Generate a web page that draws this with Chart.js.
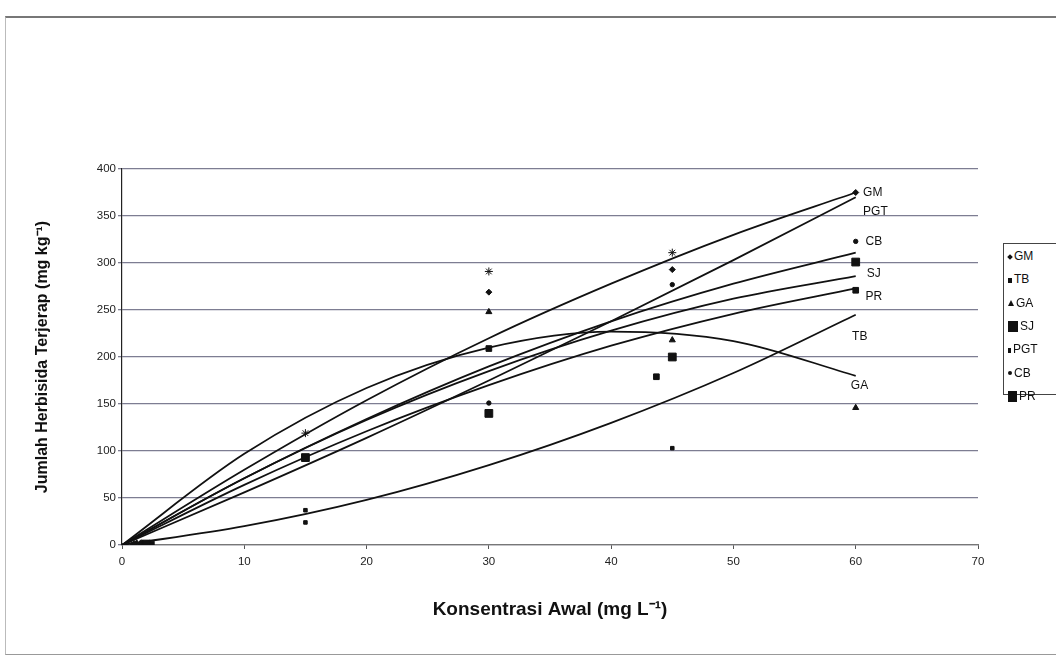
<!DOCTYPE html>
<html>
<head>
<meta charset="utf-8">
<script src="https://cdn.jsdelivr.net/npm/chart.js@4.4.1/dist/chart.umd.min.js"></script>
<style>
  html, body { margin: 0; padding: 0; background: #fff; }
  #wrap { position: relative; width: 1056px; height: 666px; overflow: hidden; font-family: 'Liberation Sans', Arial, sans-serif; }
  #frame { position: absolute; left: 5px; top: 16px; width: 1070px; height: 636px;
           border-top: 2px solid #777; border-left: 1px solid #bbb; border-bottom: 1px solid #999; }
  #chart { position: absolute; left: 0; top: 0; }
  #legend { position: absolute; left: 1003px; top: 243px; width: 70px; height: 150px;
            border: 1px solid #444; background: #fff; font-size: 12px; color: #111; }
  .item { position: absolute; left: 4px; height: 14px; line-height: 14px; white-space: nowrap; }
  .mk { display: inline-block; background: #111; vertical-align: middle; margin-right: 2px; }
</style>
</head>
<body>
<div id="wrap">
  <div id="frame"></div>
  <canvas id="chart" width="1056" height="666"></canvas>
  <div id="legend"></div>
</div>
<script>
/* --- Data --- */
const X_TICKS = [0, 10, 20, 30, 40, 50, 60, 70];
const Y_TICKS = [0, 50, 100, 150, 200, 250, 300, 350, 400];

// trend curves, sampled at these concentrations
const CURVE_X   = [0, 10, 20, 30, 40, 50, 60];
const GM_CURVE  = [0, 80, 154, 220, 278, 330, 375];
const PGT_CURVE = [0, 56, 114, 175, 238, 303, 370];
const CB_CURVE  = [0, 71, 134, 190, 238, 278, 311];
const SJ_CURVE  = [0, 71, 133, 185, 228, 262, 286];
const PR_CURVE  = [0, 64, 121, 170, 212, 246, 273];
const TB_CURVE  = [0, 20, 48, 85, 130, 183, 245];
const GA_CURVE  = [0, 97, 167, 210, 227, 217, 180];

// measured points
const GM_X  = [1.0, 30, 45, 60];      const GM_Y  = [1, 269, 293, 375];
const TB_X  = [1.5, 15, 15, 45];      const TB_Y  = [1, 37, 24, 103];
const GA_X  = [1.2, 30, 45, 60];      const GA_Y  = [2, 248, 218, 146];
const SJ_X  = [2.0, 15, 30, 45, 60];  const SJ_Y  = [1, 93, 140, 200, 301];
const PGT_X = [0.8, 15, 30, 45];      const PGT_Y = [2, 119, 291, 311];
const CB_X  = [1.6, 30, 45, 60];      const CB_Y  = [3, 151, 277, 323];
const PR_X  = [2.4, 30, 43.7, 60];    const PR_Y  = [1, 209, 179, 271];

// labels at the end of each curve
const END_NAMES = ['GM', 'PGT', 'CB', 'SJ', 'PR', 'TB', 'GA'];
const END_X     = [60.6, 60.6, 60.8, 60.9, 60.8, 59.7, 59.6];
const END_Y     = [375, 355, 323, 289, 264, 222, 170];

const LEGEND_NAMES = ['GM', 'TB', 'GA', 'SJ', 'PGT', 'CB', 'PR'];

/* --- helpers --- */
const zip = (xs, ys) => xs.map((x, i) => ({ x: x, y: ys[i] }));

function curve(ys) {
    return {
        type: 'line',
        data: zip(CURVE_X, ys),
        borderColor: '#111',
        borderWidth: 1.8,
        pointRadius: 0,
        cubicInterpolationMode: 'monotone',
        fill: false,
        order: 2
    };
}

function points(label, xs, ys, style, r) {
    return {
        type: 'scatter',
        label: label,
        data: zip(xs, ys),
        pointStyle: style,
        pointRadius: r,
        backgroundColor: '#111',
        borderColor: '#111',
        borderWidth: 1,
        order: 1
    };
}

const endLabels = {
    id: 'endLabels',
    afterDatasetsDraw(chart) {
        const { ctx, scales } = chart;
        ctx.save();
        ctx.font = "12px 'Liberation Sans', Arial, sans-serif";
        ctx.fillStyle = '#111';
        ctx.textBaseline = 'middle';
        END_NAMES.forEach((n, i) => {
            ctx.fillText(n, scales.x.getPixelForValue(END_X[i]), scales.y.getPixelForValue(END_Y[i]));
        });
        ctx.restore();
    }
};

/* --- chart --- */
new Chart(document.getElementById('chart'), {
    type: 'scatter',
    data: {
        datasets: [
            curve(GM_CURVE), curve(PGT_CURVE), curve(CB_CURVE), curve(SJ_CURVE),
            curve(PR_CURVE), curve(TB_CURVE), curve(GA_CURVE),
            points('GM', GM_X, GM_Y, 'rectRot', 3),
            points('TB', TB_X, TB_Y, 'rect', 2.5),
            points('GA', GA_X, GA_Y, 'triangle', 3.5),
            points('SJ', SJ_X, SJ_Y, 'rect', 5.5),
            points('PGT', PGT_X, PGT_Y, 'star', 4),
            points('CB', CB_X, CB_Y, 'circle', 2.2),
            points('PR', PR_X, PR_Y, 'rect', 4)
        ]
    },
    options: {
        responsive: false,
        animation: false,
        layout: { padding: { left: 33, right: 78, top: 169, bottom: 45 } },
        plugins: { legend: { display: false }, tooltip: { enabled: false } },
        scales: {
            x: {
                type: 'linear', min: 0, max: 70,
                afterBuildTicks: (s) => { s.ticks = X_TICKS.map(v => ({ value: v })); },
                afterFit: (s) => { s.height = 76; },
                grid: { drawOnChartArea: false, drawTicks: true, tickLength: 4, color: '#555' },
                border: { display: true, color: '#777', width: 1.2 },
                ticks: { color: '#222', font: { size: 11.5, family: "'Liberation Sans', Arial" }, padding: 6, maxRotation: 0 },
                title: { display: true, text: 'Konsentrasi Awal (mg L⁻¹)', color: '#111',
                         font: { size: 19, weight: 'bold', family: "'Liberation Sans', Arial" }, padding: { top: 0, bottom: 0 } }
            },
            y: {
                type: 'linear', min: 0, max: 400,
                afterBuildTicks: (s) => { s.ticks = Y_TICKS.map(v => ({ value: v })); },
                afterFit: (s) => { s.width = 89; },
                grid: { color: '#7d7d92', lineWidth: 1.3, drawTicks: true, tickLength: 4 },
                border: { display: true, color: '#222', width: 1.2 },
                ticks: { color: '#222', font: { size: 11.5, family: "'Liberation Sans', Arial" }, padding: 2 },
                title: { display: true, text: 'Jumlah Herbisida Terjerap (mg kg⁻¹)', color: '#111',
                         font: { size: 16, weight: 'bold', family: "'Liberation Sans', Arial" }, padding: 0 }
            }
        }
    },
    plugins: [endLabels]
});

/* --- legend box --- */
const LEGEND_MARKS = {
    GM:  'width:4px;height:4px;transform:rotate(45deg);',
    TB:  'width:4px;height:5px;',
    GA:  'width:0;height:0;background:none;border-left:3px solid transparent;border-right:3px solid transparent;border-bottom:6px solid #111;',
    SJ:  'width:10px;height:11px;',
    PGT: 'width:3px;height:5px;',
    CB:  'width:4px;height:4px;border-radius:2px;',
    PR:  'width:9px;height:11px;'
};
const legendEl = document.getElementById('legend');
LEGEND_NAMES.forEach((n, i) => {
    const row = document.createElement('div');
    row.className = 'item';
    row.style.top = (5 + i * 23.3) + 'px';
    const mk = document.createElement('span');
    mk.className = 'mk';
    mk.style.cssText = LEGEND_MARKS[n];
    row.appendChild(mk);
    row.appendChild(document.createTextNode(n));
    legendEl.appendChild(row);
});
</script>
</body>
</html>
